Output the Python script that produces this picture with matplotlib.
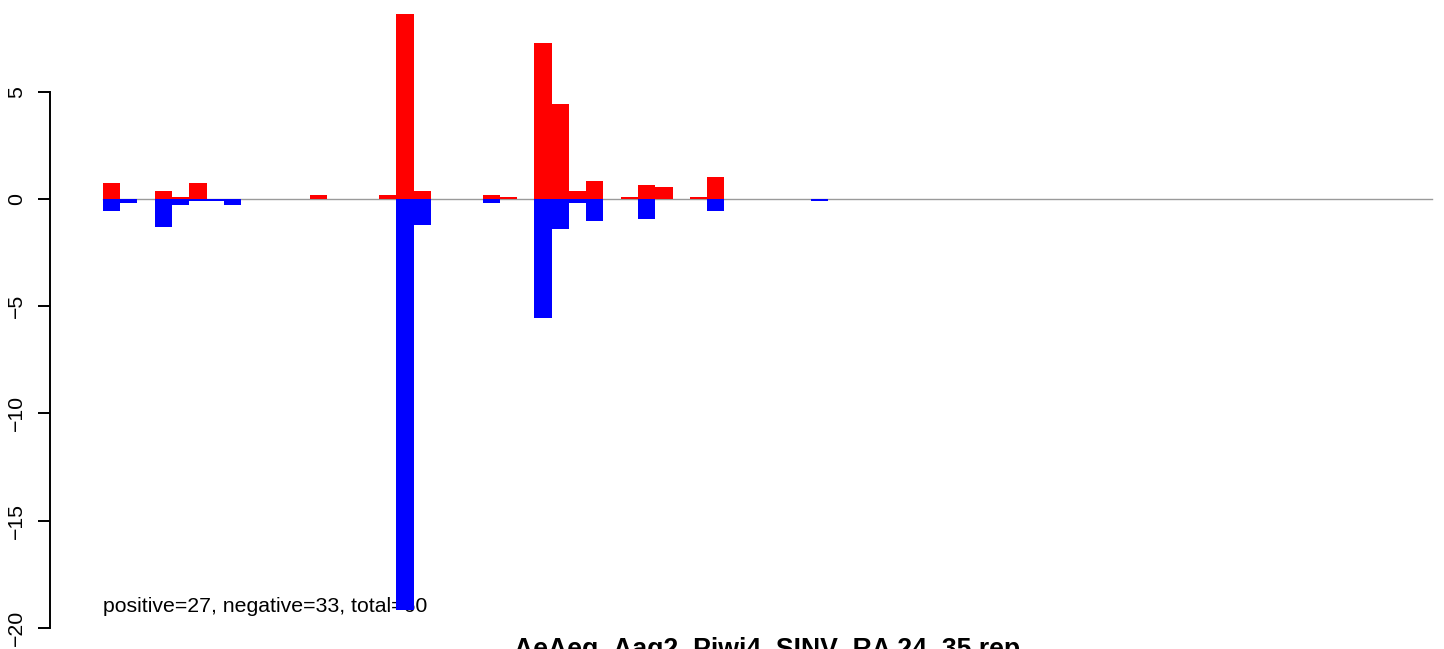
import matplotlib
matplotlib.use("Agg")
import matplotlib.pyplot as plt
import numpy as np

plt.rcParams['font.family'] = ['Liberation Sans', 'DejaVu Sans']

# ---- data ----
n_positions = 77
positive_idx = [0, 3, 4, 5, 12, 16, 17, 18, 22, 23, 25, 26, 27, 28, 30, 31, 32, 34, 35]
positive_val = [0.75, 0.37, 0.09, 0.75, 0.19, 0.19, 8.63, 0.37, 0.19, 0.09,
                7.28, 4.43, 0.37, 0.84, 0.09, 0.65, 0.56, 0.09, 1.03]
negative_idx = [0, 1, 3, 4, 5, 6, 7, 17, 18, 22, 25, 26, 27, 28, 31, 35, 41]
negative_val = [-0.56, -0.19, -1.31, -0.28, -0.09, -0.09, -0.28, -19.17, -1.21,
                -0.19, -5.55, -1.40, -0.19, -1.03, -0.93, -0.56, -0.09]
y_ticks = [-20, -15, -10, -5, 0, 5]
annotation = "positive=27, negative=33, total=60"
title = "AeAeg_Aag2_Piwi4_SINV_RA 24_35 rep"

pos = np.zeros(n_positions)
pos[positive_idx] = positive_val
neg = np.zeros(n_positions)
neg[negative_idx] = negative_val
x = np.arange(n_positions)

# ---- figure ----
W, H = 1444, 649
fig = plt.figure(figsize=(W / 100, H / 100), dpi=100)
ax_left_px, ax_right_px = 49.8, 1485.1
ax_top_px, ax_bot_px = -9.8, 633.8
ax = fig.add_axes([ax_left_px / W, (H - ax_bot_px) / H,
                   (ax_right_px - ax_left_px) / W, (ax_bot_px - ax_top_px) / H])

ax.plot([0, n_positions], [0, 0], color='#9a9a9a', lw=1.0, zorder=1)
ax.text(0, -19.26, annotation, ha='left', va='baseline', fontsize=15.3, zorder=2)
ax.bar(x, pos, width=1.0, align='edge', color='#ff0000', linewidth=0, zorder=3)
ax.bar(x, neg, width=1.0, align='edge', color='#0000ff', linewidth=0, zorder=3)

ax.set_xlim(-0.04 * n_positions, n_positions * 1.04)
ax.set_ylim(-20.28, 9.74)

for s in ['top', 'right', 'bottom']:
    ax.spines[s].set_visible(False)
ax.spines['left'].set_bounds(min(y_ticks), max(y_ticks))
ax.spines['left'].set_linewidth(1.4)
ax.set_xticks([])
ax.set_yticks(y_ticks)
ax.set_yticklabels([str(t).replace('-', '\u2212') for t in y_ticks],
                   rotation=90, va='center', fontsize=15.3)
ax.tick_params(axis='y', length=8.6, width=1.4, pad=8.6)
ax.patch.set_visible(False)

# title of the next panel, partly cut off at the bottom edge as in the reference
fig.text((ax_left_px + ax_right_px) / 2 / W, (H - 657) / H, title,
         ha='center', va='baseline', fontsize=19.2, fontweight='bold')

fig.savefig("out.png", dpi=100)
